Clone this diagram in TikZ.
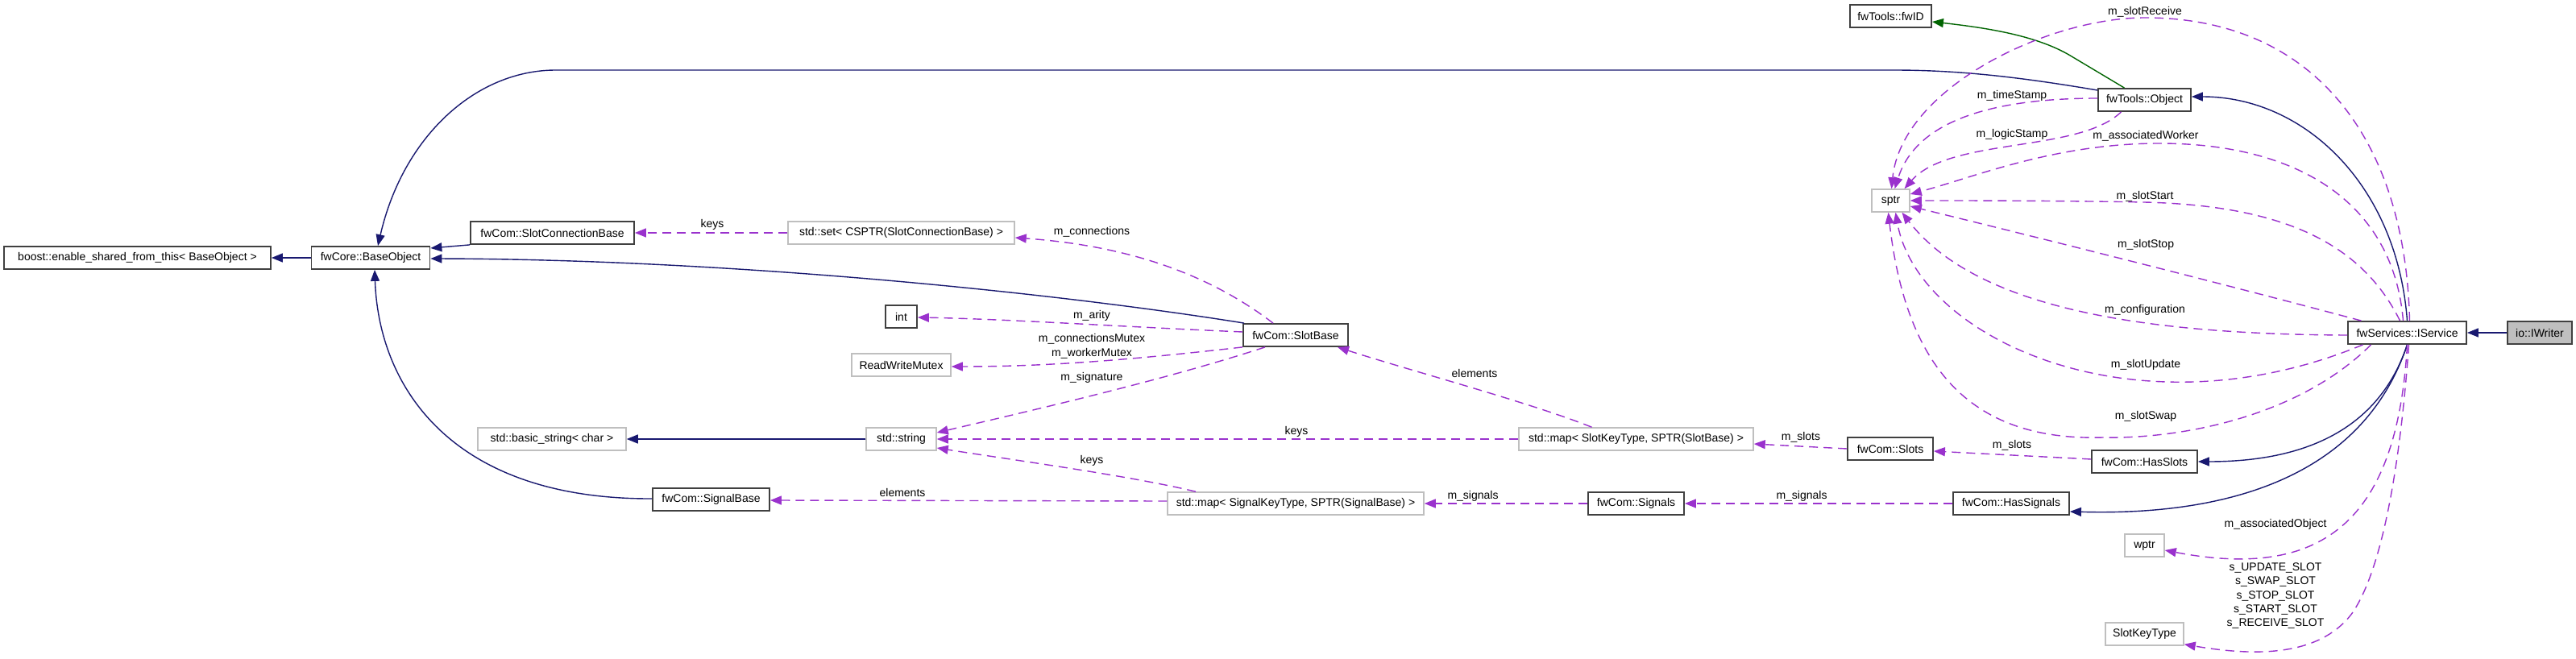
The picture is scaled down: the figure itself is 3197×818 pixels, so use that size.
\documentclass[tikz,border=0pt]{standalone}
\usepackage{fontspec}
\setmainfont{Liberation Sans}
\usetikzlibrary{arrows.meta}
\definecolor{inhblue}{HTML}{191970}
\definecolor{usepurple}{HTML}{9A32CD}
\definecolor{tplgreen}{HTML}{006400}
\definecolor{grayedge}{HTML}{BFBFBF}
\definecolor{boxedge}{HTML}{404040}
\definecolor{hlfill}{HTML}{BFBFBF}
\begin{document}
\begin{tikzpicture}[x=1pt,y=-1pt,
  every node/.style={font=\fontsize{14}{16}\selectfont},
  box/.style={draw=boxedge, line width=1.8pt, minimum height=28pt, inner sep=0pt, fill=white},
  gbox/.style={draw=grayedge, line width=1.5pt, minimum height=28pt, inner sep=0pt, fill=white},
  lbl/.style={inner sep=0pt},
  inh/.style={draw=inhblue, line width=1.4pt, -{Triangle[length=14pt,width=11pt]}},
  tpl/.style={draw=tplgreen, line width=1.4pt, -{Triangle[length=14pt,width=11pt]}},
  usee/.style={draw=usepurple, line width=1.4pt, dash pattern=on 11pt off 7pt, -{Triangle[length=14pt,width=11pt]}}
]
\fill[white] (0,0) rectangle (3197,818);
\useasboundingbox (0,0) rectangle (3197,818);

% nodes
\node[box, minimum width=331pt] (boost) at (170.5,320) {boost::enable\_shared\_from\_this< BaseObject >};
\node[box, minimum width=147pt] (BaseObject) at (460,320) {fwCore::BaseObject};
\node[box, minimum width=203pt] (SCB) at (685.5,289) {fwCom::SlotConnectionBase};
\node[gbox, minimum width=281pt] (set) at (1118.5,289) {std::set< CSPTR(SlotConnectionBase) >};
\node[box, minimum width=39pt] (int) at (1118.5,393) {int};
\node[gbox, minimum width=123pt] (rwm) at (1118.5,453) {ReadWriteMutex};
\node[gbox, minimum width=87pt] (string) at (1118.5,545) {std::string};
\node[gbox, minimum width=184pt] (basic) at (685,545) {std::basic\_string< char >};
\node[box, minimum width=145pt] (SignalBase) at (882.5,620) {fwCom::SignalBase};
\node[box, minimum width=130pt] (SlotBase) at (1608,416) {fwCom::SlotBase};
\node[gbox, minimum width=291pt] (mapSlot) at (2030.5,545) {std::map< SlotKeyType, SPTR(SlotBase) >};
\node[gbox, minimum width=318pt] (mapSignal) at (1608,625) {std::map< SignalKeyType, SPTR(SignalBase) >};
\node[box, minimum width=106pt] (Slots) at (2346,557) {fwCom::Slots};
\node[box, minimum width=119pt] (Signals) at (2030.5,625) {fwCom::Signals};
\node[box, minimum width=131pt] (HasSlots) at (2661.5,573) {fwCom::HasSlots};
\node[box, minimum width=144pt] (HasSignals) at (2496,625) {fwCom::HasSignals};
\node[box, minimum width=101pt] (fwID) at (2346.5,20) {fwTools::fwID};
\node[box, minimum width=115pt] (Object) at (2661.5,124) {fwTools::Object};
\node[gbox, minimum width=47pt] (sptr) at (2346.5,249) {sptr};
\node[box, minimum width=147pt] (IService) at (2987.5,413) {fwServices::IService};
\node[box, minimum width=80pt, fill=hlfill] (IWriter) at (3152,413) {io::IWriter};
\node[gbox, minimum width=49pt] (wptr) at (2661.5,677) {wptr};
\node[gbox, minimum width=97pt] (SlotKeyType) at (2661.5,787) {SlotKeyType};

% inheritance
\draw[inh] (BaseObject.west) -- (boost.east);
\draw[inh] ([yshift=12pt]Object.west) .. controls (2520,98) and (2440,87) .. (2350,87) -- (690,87) .. controls (590,87) and (500,170) .. ([xshift=9pt]BaseObject.north);
\draw[inh] (SCB.south west) -- ([yshift=12pt]BaseObject.east);
\draw[inh] ([xshift=2pt]SlotBase.north west) .. controls (1300,362) and (900,322) .. ([yshift=-1pt]BaseObject.east);
\draw[inh] ([yshift=1pt]SignalBase.west) .. controls (560,620) and (470,480) .. ([xshift=5pt]BaseObject.south);
\draw[inh] (string.west) -- (basic.east);
\draw[inh] (IWriter.west) -- (IService.east);
\draw[inh] (IService.north) .. controls (2975,230) and (2860,120) .. ([yshift=4pt]Object.east);
\draw[inh] (IService.south) .. controls (2950,540) and (2850,573) .. (HasSlots.east);
\draw[inh] (IService.south) .. controls (2930,600) and (2750,640) .. ([yshift=-10pt]HasSignals.east);

% template
\draw[tpl] ([xshift=-25pt]Object.north) -- (2571,70) .. controls (2530,45) and (2470,35) .. ([yshift=-7pt]fwID.east);

% usage
\draw[usee] (set.west) -- (SCB.east);
\draw[usee] ([xshift=-28pt]SlotBase.north) .. controls (1500,340) and (1400,305) .. ([yshift=-6pt]set.east);
\draw[usee] ([yshift=4pt]SlotBase.west) .. controls (1400,406) and (1250,396) .. ([yshift=-1pt]int.east);
\draw[usee] (SlotBase.south west) .. controls (1400,447) and (1300,455) .. ([yshift=-2pt]rwm.east);
\draw[usee] ([xshift=-38pt]SlotBase.south) .. controls (1450,470) and (1300,505) .. ([yshift=8pt]string.east);
\draw[usee] (mapSlot.west) -- (string.east);
\draw[usee] ([xshift=-124pt]mapSignal.north) .. controls (1400,590) and (1250,570) .. ([yshift=-11pt]string.east);
\draw[usee] ([yshift=3pt]mapSignal.west) -- ([yshift=-1pt]SignalBase.east);
\draw[usee] ([xshift=-55pt]mapSlot.north) .. controls (1900,500) and (1750,460) .. ([xshift=52pt]SlotBase.south);
\draw[usee] (Slots.west) -- ([yshift=-6pt]mapSlot.east);
\draw[usee] ([yshift=3pt]HasSlots.west) -- ([yshift=-3pt]Slots.east);
\draw[usee] (Signals.west) -- (mapSignal.east);
\draw[usee] (HasSignals.west) -- (Signals.east);

% sptr and others
\draw[usee] ([xshift=3pt]IService.north) .. controls (2985,170) and (2870,22) .. (2662,22) .. controls (2540,22) and (2360,110) .. ([xshift=1pt]sptr.north);
\draw[usee] ([yshift=2pt]Object.west) .. controls (2450,122) and (2375,160) .. ([xshift=5pt]sptr.north);
\draw[usee] ([xshift=-29pt]Object.south) .. controls (2580,190) and (2420,170) .. ([xshift=17pt]sptr.north);
\draw[usee] ([xshift=-5pt]IService.north) .. controls (2970,250) and (2850,178) .. (2680,178) .. controls (2550,178) and (2450,220) .. ([yshift=8pt]sptr.east);
\draw[usee] ([xshift=-9pt]IService.north) .. controls (2930,300) and (2830,255) .. (2661,251) .. controls (2550,249) and (2450,249) .. (sptr.east);
\draw[usee] ([xshift=-57pt]IService.north) .. controls (2750,350) and (2550,300) .. ([yshift=-7pt]sptr.east);
\draw[usee] ([yshift=-3pt]IService.west) .. controls (2650,415) and (2450,380) .. ([xshift=14pt]sptr.south);
\draw[usee] ([xshift=-55pt]IService.south) .. controls (2650,545) and (2380,420) .. ([xshift=6pt]sptr.south);
\draw[usee] ([xshift=-45pt]IService.south) .. controls (2850,520) and (2700,545) .. (2610,543) .. controls (2440,548) and (2365,450) .. ([xshift=-3pt]sptr.south);
\draw[usee] (IService.south) .. controls (2975,650) and (2880,720) .. ([yshift=-6pt]wptr.east);
\draw[usee] ([xshift=2pt]IService.south) .. controls (2980,560) and (2960,700) .. (2920,760) .. controls (2880,815) and (2800,815) .. ([yshift=2pt]SlotKeyType.south east);

% labels
\node[lbl] (lkeys1) at (884,279) {keys};
\node[lbl] (lconn) at (1355,288) {m\_connections};
\node[lbl] (larity) at (1355,392) {m\_arity};
\node[lbl] (lcmutex) at (1355,421) {m\_connectionsMutex};
\node[lbl] (lwmutex) at (1355,439) {m\_workerMutex};
\node[lbl] (lsig) at (1355,469) {m\_signature};
\node[lbl] (lkeys2) at (1609,536) {keys};
\node[lbl] (lkeys3) at (1355,572) {keys};
\node[lbl] (lelem1) at (1120,611) {elements};
\node[lbl] (lelem2) at (1830,463) {elements};
\node[lbl] (lsignals1) at (1828,616) {m\_signals};
\node[lbl] (lslots1) at (2235,543) {m\_slots};
\node[lbl] (lsignals2) at (2236,616) {m\_signals};
\node[lbl] (lslots2) at (2497,553) {m\_slots};
\node[lbl] (lrecv) at (2662,15) {m\_slotReceive};
\node[lbl] (ltime) at (2497,119) {m\_timeStamp};
\node[lbl] (llogic) at (2497,167) {m\_logicStamp};
\node[lbl] (lworker) at (2663,169) {m\_associatedWorker};
\node[lbl] (lstart) at (2662,244) {m\_slotStart};
\node[lbl] (lstop) at (2663,304) {m\_slotStop};
\node[lbl] (lconf) at (2662,385) {m\_configuration};
\node[lbl] (lupd) at (2663,453) {m\_slotUpdate};
\node[lbl] (lswap) at (2663,517) {m\_slotSwap};
\node[lbl] (lobj) at (2824,651) {m\_associatedObject};
\node[lbl] (ls1) at (2824,705) {s\_UPDATE\_SLOT};
\node[lbl] (ls2) at (2824,722) {s\_SWAP\_SLOT};
\node[lbl] (ls3) at (2824,740) {s\_STOP\_SLOT};
\node[lbl] (ls4) at (2824,757) {s\_START\_SLOT};
\node[lbl] (ls5) at (2824,774) {s\_RECEIVE\_SLOT};
\end{tikzpicture}
\end{document}
